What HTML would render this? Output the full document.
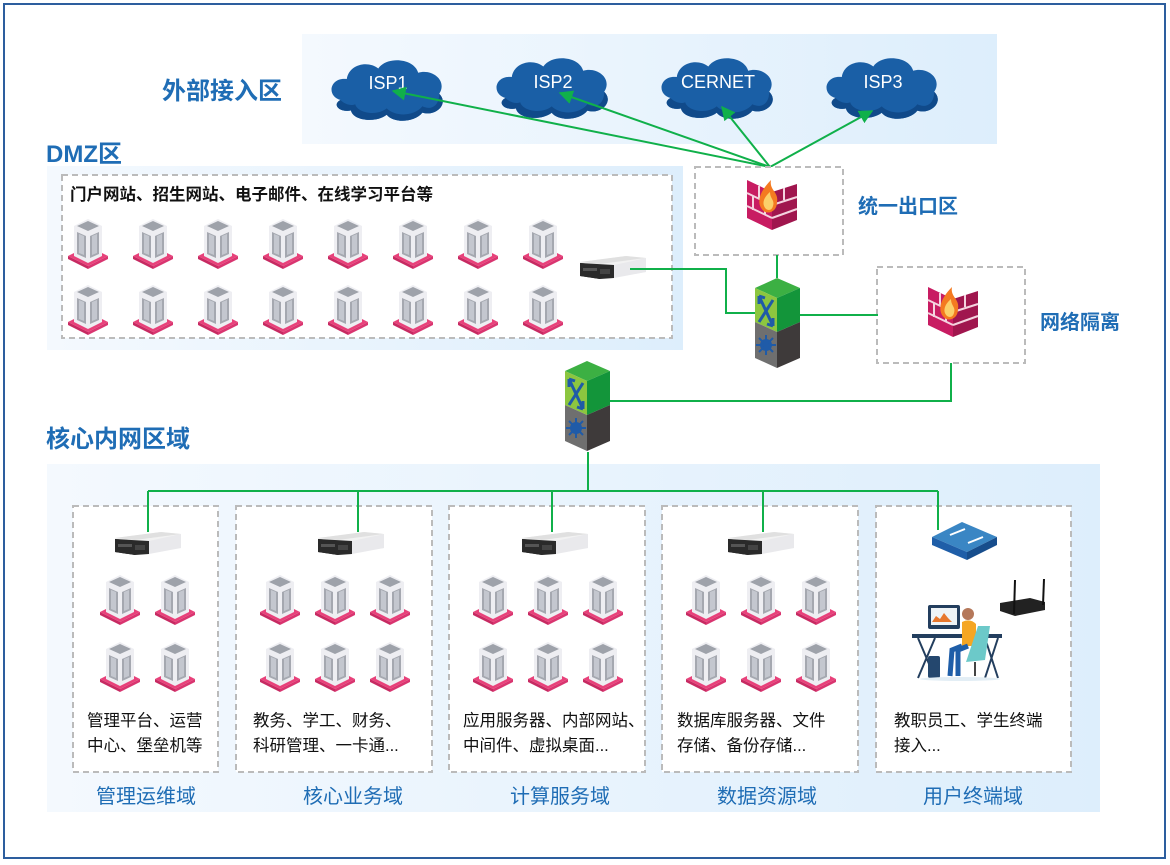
<!DOCTYPE html>
<html><head><meta charset="utf-8"><style>
html,body{margin:0;padding:0;background:#fff}
svg{display:block}
text{font-family:"Liberation Sans","Noto Sans CJK SC",sans-serif}
</style></head><body>
<svg width="1170" height="865" viewBox="0 0 1170 865" xmlns="http://www.w3.org/2000/svg">
<defs>
<linearGradient id="bg" x1="0" x2="1" y1="0" y2="0"><stop offset="0" stop-color="#f4f9fe"/><stop offset="1" stop-color="#ddeefc"/></linearGradient>
<g id="tower">
<polygon points="0,38 20,28 40,38 20,48" fill="#e8417a"/>
<polygon points="0,38 20,48 20,51 0,41" fill="#c72a62"/>
<polygon points="40,38 20,48 20,51 40,41" fill="#d93570"/>
<polygon points="6,8 20,1 34,8 34,38 20,45 6,38" fill="#eeeef2"/>
<polygon points="9,8 20,3 31,8 20,13" fill="#9ea2aa"/>
<polygon points="9,14 18,18 18,40 9,36" fill="#a5a8b0"/>
<polygon points="11,16 16,18 16,37 11,35" fill="#c4c7cf"/>
<polygon points="31,14 22,18 22,40 31,36" fill="#a5a8b0"/>
<polygon points="29,16 24,18 24,37 29,35" fill="#c4c7cf"/>
</g>
<g id="rack">
<polygon points="0,8 46,2 66,4 66,18 20,25 0,22" fill="#f2f2f2"/>
<polygon points="0,8 46,2 66,4 20,10" fill="#e0e0e0"/>
<polygon points="0,9 20,11 20,25 0,22" fill="#222"/>
<polygon points="0,9 34,11 34,24 20,25 0,22" fill="#2a2a2a"/>
<rect x="3" y="14" width="14" height="3" fill="#555"/>
<rect x="20" y="15" width="10" height="5" fill="#444"/>
<polygon points="34,11 66,4 66,18 34,24" fill="#e9e9ec"/>
</g>
<g id="fw">
<polygon points="0,0 25,12 25,50 0,38" fill="#c81c62"/>
<polygon points="25,12 50,4 50,40 25,50" fill="#a0164e"/>
<g stroke="#f4d3df" stroke-width="2"><line x1="0" y1="13" x2="25" y2="25"/><line x1="0" y1="26" x2="25" y2="38"/><line x1="12" y1="6" x2="12" y2="18"/><line x1="6" y1="16" x2="6" y2="30"/><line x1="18" y1="22" x2="18" y2="35"/><line x1="25" y1="25" x2="50" y2="17"/><line x1="25" y1="38" x2="50" y2="29"/><line x1="37" y1="8" x2="37" y2="20"/></g>
<path d="M18,32 C8,25 12,12 24,0 C22,10 32,12 30,22 C30,30 24,34 18,32Z" fill="#f47a20"/>
<path d="M19,29 C14,24 17,17 23,12 C23,19 28,20 26,26 C25,30 22,31 19,29Z" fill="#fbd06a"/>
</g>
<g id="sw">
<polygon points="0,10 22,0 45,10 22,20" fill="#3cb043"/>
<polygon points="0,10 22,20 22,54 0,44" fill="#8cc63f"/>
<polygon points="22,20 45,10 45,44 22,54" fill="#13953a"/>
<polygon points="0,44 22,54 22,90 0,80" fill="#6f6f6f"/>
<polygon points="22,54 45,44 45,80 22,90" fill="#3e3a3a"/>
<path d="M4,18 L18,48 M18,22 L4,44 M4,18 L4,26 M4,18 L10,20 M18,48 L18,40 M18,48 L12,46" stroke="#1f5ba8" stroke-width="3" fill="none"/>
<circle cx="11" cy="67" r="6" fill="#1f5ba8"/>
<path d="M11,57 V77 M1,67 H21 M4,60 L18,74 M18,60 L4,74" stroke="#1f5ba8" stroke-width="2"/>
</g>
<g id="cloud">
<path d="M10,40 C-4,36 0,18 16,20 C18,6 36,2 46,10 C54,-2 80,0 84,14 C98,10 112,22 104,34 C114,44 100,56 88,52 C80,62 60,62 54,54 C44,62 22,60 20,50 C8,52 2,44 10,40Z" fill="#1a5fa6"/>
<path d="M10,40 C14,44 20,46 24,44 C26,52 44,56 54,48 C62,56 80,56 88,46 C96,50 104,46 104,34 C114,44 100,56 88,52 C80,62 60,62 54,54 C44,62 22,60 20,50 C8,52 2,44 10,40Z" fill="#104a8a"/>
</g>
<marker id="ar" viewBox="0 0 10 10" refX="9" refY="5" markerWidth="7" markerHeight="7" orient="auto"><path d="M0,0 L10,5 L0,10Z" fill="#10b04a"/></marker>
</defs>

<rect x="4" y="4" width="1161" height="854" fill="#fff" stroke="#2d5e9e" stroke-width="2"/>

<!-- external -->
<rect x="302" y="34" width="695" height="110" fill="url(#bg)"/>
<text x="162" y="99" font-size="24" font-weight="bold" fill="#1f6db5">外部接入区</text>
<g transform="translate(330,58) scale(1.05)"><use href="#cloud"/></g>
<g transform="translate(495,56) scale(1.05)"><use href="#cloud"/></g>
<g transform="translate(660,56) scale(1.05)"><use href="#cloud"/></g>
<g transform="translate(825,56) scale(1.05)"><use href="#cloud"/></g>
<g fill="#fff" font-size="18" text-anchor="middle"><text x="388" y="89">ISP1</text><text x="553" y="88">ISP2</text><text x="718" y="88">CERNET</text><text x="883" y="88">ISP3</text></g>
<g stroke="#10b04a" stroke-width="2" fill="none">
<line x1="770" y1="167" x2="393" y2="91" marker-end="url(#ar)"/>
<line x1="770" y1="167" x2="560" y2="93" marker-end="url(#ar)"/>
<line x1="770" y1="167" x2="722" y2="107" marker-end="url(#ar)"/>
<line x1="770" y1="167" x2="872" y2="111" marker-end="url(#ar)"/>
</g>

<!-- DMZ -->
<text x="46" y="162" font-size="24" font-weight="bold" fill="#1f6db5">DMZ区</text>
<rect x="47" y="166" width="636" height="184" fill="url(#bg)"/>
<rect x="62" y="175" width="610" height="163" fill="#fff" stroke="#bbb" stroke-width="2" stroke-dasharray="6,4"/>
<text x="70" y="200" font-size="16.5" font-weight="bold" fill="#111">门户网站、招生网站、电子邮件、在线学习平台等</text>
<g>
<use href="#tower" x="68" y="218"/><use href="#tower" x="133" y="218"/><use href="#tower" x="198" y="218"/><use href="#tower" x="263" y="218"/><use href="#tower" x="328" y="218"/><use href="#tower" x="393" y="218"/><use href="#tower" x="458" y="218"/><use href="#tower" x="523" y="218"/>
<use href="#tower" x="68" y="284"/><use href="#tower" x="133" y="284"/><use href="#tower" x="198" y="284"/><use href="#tower" x="263" y="284"/><use href="#tower" x="328" y="284"/><use href="#tower" x="393" y="284"/><use href="#tower" x="458" y="284"/><use href="#tower" x="523" y="284"/>
</g>
<use href="#rack" x="580" y="254"/>

<!-- exit -->
<rect x="695" y="167" width="148" height="88" fill="#fff" stroke="#bbb" stroke-width="2" stroke-dasharray="6,4"/>
<use href="#fw" x="747" y="180"/>
<text x="858" y="213" font-size="20" font-weight="bold" fill="#1f6db5">统一出口区</text>
<rect x="877" y="267" width="148" height="96" fill="#fff" stroke="#bbb" stroke-width="2" stroke-dasharray="6,4"/>
<use href="#fw" x="928" y="287"/>
<text x="1040" y="329" font-size="20" font-weight="bold" fill="#1f6db5">网络隔离</text>

<!-- core bg -->
<text x="46" y="447" font-size="24" font-weight="bold" fill="#1f6db5">核心内网区域</text>
<rect x="47" y="464" width="1053" height="348" fill="url(#bg)"/>
<g fill="#fff" stroke="#bbb" stroke-width="2" stroke-dasharray="6,4">
<rect x="73" y="506" width="145" height="266"/>
<rect x="236" y="506" width="196" height="266"/>
<rect x="449" y="506" width="196" height="266"/>
<rect x="662" y="506" width="196" height="266"/>
<rect x="876" y="506" width="195" height="266"/>
</g>

<g stroke="#10b04a" stroke-width="2" fill="none">
<polyline points="630,269 726,269 726,313 757,313"/>
<line x1="777" y1="255" x2="777" y2="278"/>
<line x1="800" y1="315" x2="878" y2="315"/>
<polyline points="610,401 951,401 951,363"/>
<polyline points="588,452 588,491"/>
<line x1="148" y1="491" x2="938" y2="491"/>
<line x1="148" y1="491" x2="148" y2="532"/>
<line x1="358" y1="491" x2="358" y2="532"/>
<line x1="552" y1="491" x2="552" y2="532"/>
<line x1="763" y1="491" x2="763" y2="532"/>
<line x1="938" y1="491" x2="938" y2="530"/>
</g>
<use href="#sw" x="755" y="278"/>
<use href="#sw" x="565" y="361"/>

<use href="#rack" x="115" y="530"/>
<use href="#rack" x="318" y="530"/>
<use href="#rack" x="522" y="530"/>
<use href="#rack" x="728" y="530"/>
<g>
<use href="#tower" x="100" y="574"/><use href="#tower" x="155" y="574"/><use href="#tower" x="100" y="641"/><use href="#tower" x="155" y="641"/>
<use href="#tower" x="260" y="574"/><use href="#tower" x="315" y="574"/><use href="#tower" x="370" y="574"/><use href="#tower" x="260" y="641"/><use href="#tower" x="315" y="641"/><use href="#tower" x="370" y="641"/>
<use href="#tower" x="473" y="574"/><use href="#tower" x="528" y="574"/><use href="#tower" x="583" y="574"/><use href="#tower" x="473" y="641"/><use href="#tower" x="528" y="641"/><use href="#tower" x="583" y="641"/>
<use href="#tower" x="686" y="574"/><use href="#tower" x="741" y="574"/><use href="#tower" x="796" y="574"/><use href="#tower" x="686" y="641"/><use href="#tower" x="741" y="641"/><use href="#tower" x="796" y="641"/>
</g>
<!-- access switch -->
<polygon points="932,537 962,522 997,537 967,552" fill="#3a86c4"/>
<polygon points="932,537 967,552 967,560 932,545" fill="#1f5ea8"/>
<polygon points="967,552 997,537 997,545 967,560" fill="#174d8c"/>
<path d="M950,535 L965,529 M968,543 L983,537" stroke="#fff" stroke-width="2"/>
<!-- router -->
<polygon points="1000,603 1030,598 1045,602 1045,610 1015,616 1000,611" fill="#222"/>
<line x1="1014" y1="614" x2="1015" y2="580" stroke="#111" stroke-width="2"/>
<line x1="1043" y1="605" x2="1044" y2="579" stroke="#111" stroke-width="2"/>
<!-- person at desk -->
<rect x="928" y="605" width="32" height="24" rx="2" fill="#233e5e"/>
<rect x="931" y="608" width="26" height="17" fill="#eef3f6"/>
<path d="M932,622 L936,616 L940,619 L944,613 L948,618 L952,622Z" fill="#e7772d"/>
<rect x="912" y="634" width="90" height="4" fill="#233e5e"/>
<path d="M918,638 L935,678 M935,638 L918,678 M985,638 L998,678 M998,638 L985,678" stroke="#233e5e" stroke-width="2"/>
<rect x="928" y="656" width="12" height="22" rx="2" fill="#24476e"/>
<circle cx="968" cy="614" r="6" fill="#b5785a"/>
<path d="M962,622 Q970,618 976,624 L976,646 L962,646Z" fill="#f5a623"/>
<path d="M962,646 L952,650 L950,676 M968,646 L958,650 L958,676" stroke="#1f5ea8" stroke-width="5" fill="none"/>
<path d="M978,626 L990,626 L985,660 L966,662 Z" fill="#6cc9c9"/>
<line x1="975" y1="662" x2="975" y2="676" stroke="#444" stroke-width="2"/>
<ellipse cx="960" cy="679" rx="40" ry="2" fill="#e3eef5"/>

<g font-size="16.5" fill="#111">
<text x="87" y="726">管理平台、运营</text><text x="87" y="751">中心、堡垒机等</text>
<text x="253" y="726">教务、学工、财务、</text><text x="253" y="751">科研管理、一卡通...</text>
<text x="463" y="726">应用服务器、内部网站、</text><text x="463" y="751">中间件、虚拟桌面...</text>
<text x="677" y="726">数据库服务器、文件</text><text x="677" y="751">存储、备份存储...</text>
<text x="894" y="726">教职员工、学生终端</text><text x="894" y="751">接入...</text>
</g>
<g font-size="20" fill="#1f6db5" text-anchor="middle">
<text x="146" y="803">管理运维域</text>
<text x="353" y="803">核心业务域</text>
<text x="560" y="803">计算服务域</text>
<text x="767" y="803">数据资源域</text>
<text x="973" y="803">用户终端域</text>
</g>
</svg>
</body></html>
